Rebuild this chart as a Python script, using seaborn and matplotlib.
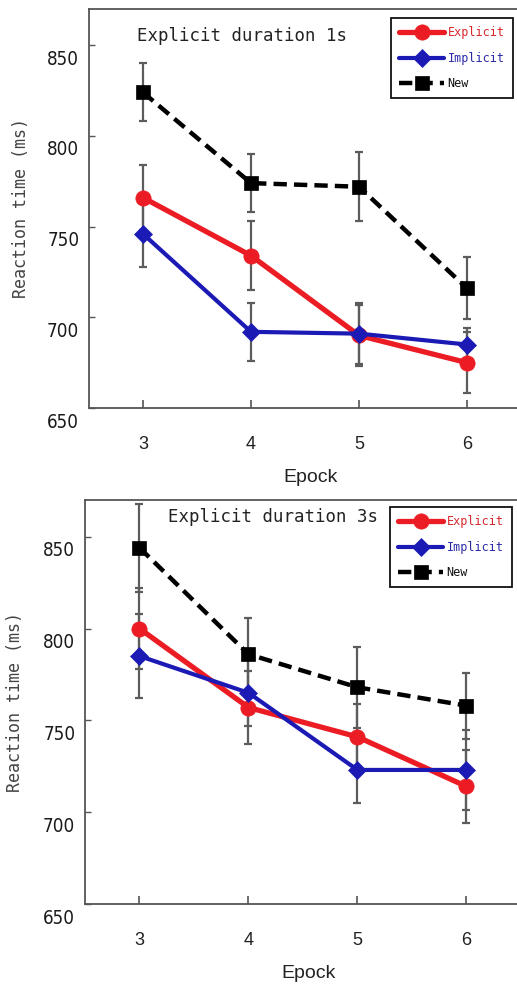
import matplotlib
matplotlib.use("Agg")
import matplotlib.pyplot as plt
import pandas as pd
import seaborn as sns
from matplotlib import font_manager
from matplotlib.transforms import ScaledTranslation

# ---- data: mean reaction time (ms) and standard error per epoch ----
epochs = [3, 4, 5, 6]
conditions = ["Explicit", "Implicit", "New"]

rt_1s_explicit = [766, 734, 690, 675]
rt_1s_implicit = [746, 692, 691, 685]
rt_1s_new = [824, 774, 772, 716]
se_1s_explicit = [18, 19, 17, 17]
se_1s_implicit = [18, 16, 17, 9]
se_1s_new = [16, 16, 19, 17]

rt_3s_explicit = [800, 757, 741, 714]
rt_3s_implicit = [785, 765, 723, 723]
rt_3s_new = [844, 786, 768, 758]
se_3s_explicit = [22, 20, 18, 20]
se_3s_implicit = [23, 18, 18, 22]
se_3s_new = [24, 20, 22, 18]

titles = ["Explicit duration 1s", "Explicit duration 3s"]
y_ticks = [650, 700, 750, 800, 850]
x_label = "Epock"
y_label = "Reaction time (ms)"


def pick(family, fallback):
    try:
        font_manager.findfont(font_manager.FontProperties(family=family),
                              fallback_to_default=False)
        return family
    except Exception:
        return fallback


def narrow_font(size):
    """A condensed sans face for the value axis, if one is installed."""
    for fam in ["Liberation Sans Narrow", "DejaVu Sans"]:
        try:
            path = font_manager.findfont(
                font_manager.FontProperties(family=fam, stretch="condensed"),
                fallback_to_default=False)
        except Exception:
            continue
        if "Narrow" in path or "Condensed" in path:
            return font_manager.FontProperties(fname=path, size=size)
    return font_manager.FontProperties(family="Liberation Sans", size=size)


sns.set_theme(style="ticks")
plt.rcParams["font.family"] = ["DejaVu Sans"]
SANS = pick("Liberation Sans", "DejaVu Sans")
MONO = pick("DejaVu Sans Mono", "DejaVu Sans")
NARROW_FP = narrow_font(13.5)

styles = {
    "Explicit": dict(color="#ec1c24", marker="o", markersize=11, linewidth=3.8,
                     linestyle="-", text="#d8262c"),
    "Implicit": dict(color="#1c1ab4", marker="D", markersize=9, linewidth=3.0,
                     linestyle="-", text="#2a2aa8"),
    "New": dict(color="#000000", marker="s", markersize=10, linewidth=3.2,
                linestyle=(0, (3.0, 1.6)), text="#111111"),
}

W, H = 517, 984
fig = plt.figure(figsize=(W / 100, H / 100), dpi=100)

# panel geometry in pixels: left spine x, bottom spine y, top spine y, px per epoch
panels = [
    dict(left=89, bottom=408, top=9, unit=108, title_xy=(2.94, 855),
         legend_corner=(513, 18), ylabel_pad=12,
         rt=[rt_1s_explicit, rt_1s_implicit, rt_1s_new],
         se=[se_1s_explicit, se_1s_implicit, se_1s_new], title=titles[0]),
    dict(left=85, bottom=904, top=500, unit=109, title_xy=(3.26, 861),
         legend_corner=(512, 507), ylabel_pad=14,
         rt=[rt_3s_explicit, rt_3s_implicit, rt_3s_new],
         se=[se_3s_explicit, se_3s_implicit, se_3s_new], title=titles[1]),
]

x_lo, x_hi = 2.5, 6.6
y_lo, y_hi = 650, 870

for p in panels:
    width_px = (x_hi - x_lo) * p["unit"]
    ax = fig.add_axes([p["left"] / W, 1 - p["bottom"] / H,
                       width_px / W, (p["bottom"] - p["top"]) / H])
    ax.set_facecolor("white")

    for cond, rts, ses in zip(conditions, p["rt"], p["se"]):
        st = styles[cond]
        ax.errorbar(epochs, rts, yerr=ses, fmt="none", ecolor="#5c5c5c",
                    elinewidth=1.6, capsize=3, capthick=1.6, zorder=1)
        df = pd.DataFrame({"epoch": epochs, "rt": rts})
        sns.lineplot(data=df, x="epoch", y="rt", ax=ax, errorbar=None,
                     color=st["color"], marker=st["marker"],
                     markersize=st["markersize"], markeredgecolor=st["color"],
                     markeredgewidth=0.5, linewidth=st["linewidth"],
                     linestyle=st["linestyle"], dash_capstyle="butt",
                     label=cond, zorder=3)

    ax.set_xlim(x_lo, x_hi)
    ax.set_ylim(y_lo, y_hi)
    ax.set_xticks(epochs)
    ax.set_xticklabels([str(e) for e in epochs], fontfamily=SANS,
                       fontsize=13, color="#222222")
    ax.set_yticks(y_ticks)
    ax.set_yticklabels([str(v) for v in y_ticks], fontproperties=NARROW_FP,
                       color="#1a1a1a")
    ax.tick_params(axis="x", direction="in", length=6, width=1.2,
                   color="#555555", pad=20)
    ax.tick_params(axis="y", direction="in", length=4, width=1.0,
                   color="#555555", pad=7)
    for lab in ax.get_yticklabels():
        lab.set_transform(lab.get_transform() +
                          ScaledTranslation(0, -0.12, fig.dpi_scale_trans))

    for side in ["left", "bottom", "top"]:
        ax.spines[side].set_color("#555555")
        ax.spines[side].set_linewidth(1.3)
    ax.spines["right"].set_visible(False)

    ax.set_xlabel(x_label, fontfamily=SANS, fontsize=14, color="#222222",
                  labelpad=12)
    ax.set_ylabel(y_label, fontfamily=MONO, fontsize=12, color="#444444",
                  labelpad=p["ylabel_pad"])

    ax.text(*p["title_xy"], p["title"], fontfamily=MONO, fontsize=12.5,
            color="#222222", va="center", ha="left")

    cx, cy = p["legend_corner"]
    leg = ax.legend(loc="upper right", bbox_to_anchor=(cx / W, 1 - cy / H),
                    bbox_transform=fig.transFigure, frameon=True,
                    fancybox=False, framealpha=1, edgecolor="#111111",
                    prop=dict(family=MONO, size=8.5), handlelength=3.8,
                    handletextpad=0.3, borderpad=0.7, labelspacing=1.05,
                    borderaxespad=0)
    leg.get_frame().set_linewidth(1.3)
    for txt, cond in zip(leg.get_texts(), conditions):
        txt.set_color(styles[cond]["text"])

fig.savefig("out.png", dpi=100, facecolor="white")
